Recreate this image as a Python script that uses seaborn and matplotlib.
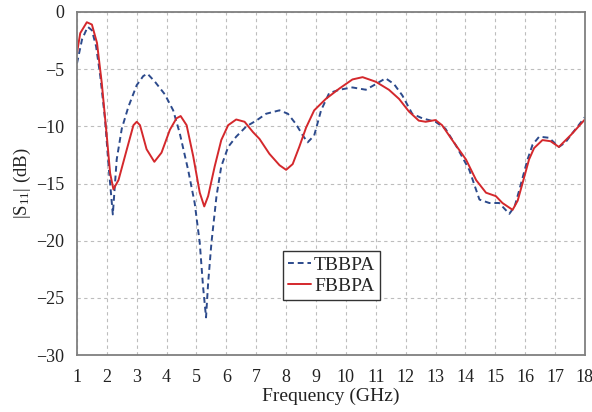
import matplotlib
matplotlib.use("Agg")
import matplotlib.pyplot as plt
import seaborn as sns
import pandas as pd

# Data
tb_freq = [1.0, 1.17, 1.36, 1.5, 1.64, 1.78, 1.94, 2.06, 2.2, 2.33, 2.5, 2.72, 3.0,
           3.22, 3.36, 3.61, 3.94, 4.22, 4.44, 4.72, 4.94, 5.11, 5.22, 5.32, 5.39,
           5.5, 5.67, 5.83, 6.06, 6.33, 6.67, 7.0, 7.33, 7.78, 8.06, 8.33, 8.56,
           8.72, 8.94, 9.17, 9.44, 9.78, 10.22, 10.67, 10.94, 11.33, 11.61, 11.89,
           12.22, 12.56, 13.0, 13.33, 13.69, 14.13, 14.3, 14.47, 14.8, 15.13, 15.47,
           15.65, 15.8, 16.08, 16.25, 16.47, 16.8, 17.13, 17.35, 17.58, 18.0]
tb_s11 = [-4.5, -2.4, -1.3, -1.6, -3.0, -5.6, -9.4, -13.5, -17.7, -12.9, -10.2, -8.3,
          -6.4, -5.6, -5.4, -6.1, -7.2, -8.6, -10.6, -13.8, -16.7, -20.2, -24.0, -26.7,
          -23.7, -20.2, -16.1, -13.5, -11.8, -10.9, -10.0, -9.5, -8.9, -8.6, -8.9,
          -9.8, -10.8, -11.4, -10.8, -8.6, -7.1, -6.8, -6.6, -6.8, -6.4, -5.8, -6.3,
          -7.3, -8.9, -9.3, -9.6, -10.2, -11.7, -13.8, -15.1, -16.4, -16.7, -16.7,
          -17.65, -17.0, -15.6, -12.9, -11.6, -10.9, -11.0, -11.8, -11.4, -10.6, -9.2]

fb_freq = [1.0, 1.11, 1.33, 1.5, 1.67, 1.83, 2.0, 2.11, 2.22, 2.39, 2.67, 2.89, 3.0,
           3.11, 3.33, 3.59, 3.83, 4.11, 4.33, 4.47, 4.67, 4.89, 5.11, 5.26, 5.39,
           5.61, 5.83, 6.06, 6.33, 6.61, 6.89, 7.11, 7.44, 7.78, 8.0, 8.22, 8.44,
           8.67, 8.94, 9.33, 9.78, 10.22, 10.56, 11.0, 11.44, 11.78, 12.11, 12.44,
           12.67, 13.0, 13.22, 13.56, 14.02, 14.36, 14.69, 15.02, 15.24, 15.58,
           15.75, 15.91, 16.13, 16.3, 16.58, 16.85, 17.13, 17.55, 18.0]
fb_s11 = [-3.6, -1.85, -0.9, -1.1, -2.7, -6.2, -10.9, -14.1, -15.5, -14.7, -12.0,
          -9.9, -9.6, -9.9, -12.0, -13.1, -12.3, -10.3, -9.3, -9.1, -9.9, -12.6,
          -15.8, -17.0, -16.1, -13.5, -11.2, -9.9, -9.4, -9.6, -10.5, -11.1, -12.4,
          -13.4, -13.8, -13.3, -11.8, -10.1, -8.6, -7.6, -6.7, -5.9, -5.7, -6.1,
          -6.8, -7.6, -8.7, -9.5, -9.6, -9.45, -9.9, -11.2, -12.9, -14.7, -15.8,
          -16.1, -16.7, -17.3, -16.5, -15.0, -12.9, -11.9, -11.2, -11.3, -11.8,
          -10.7, -9.4]

x_ticks = list(range(1, 19))
y_ticks = [0, -5, -10, -15, -20, -25, -30]

sns.set_theme(style="white")
plt.rcParams['font.family'] = ['Liberation Serif', 'DejaVu Serif']
plt.rcParams['mathtext.fontset'] = 'custom'
plt.rcParams['mathtext.rm'] = 'Liberation Serif'
plt.rcParams['mathtext.it'] = 'Liberation Serif:italic'

fig = plt.figure(figsize=(5.92, 4.12), dpi=100)
ax = fig.add_axes([0.130, 0.138, 0.858, 0.833])

df_tb = pd.DataFrame({"f": tb_freq, "s": tb_s11})
df_fb = pd.DataFrame({"f": fb_freq, "s": fb_s11})

sns.lineplot(data=df_tb, x="f", y="s", ax=ax, color="#2c4a8c", lw=1.4,
             linestyle=(0, (3, 2)), label="TBBPA", sort=False)
sns.lineplot(data=df_fb, x="f", y="s", ax=ax, color="#d4282c", lw=1.4,
             label="FBBPA", sort=False)
for ln in ax.lines:
    ln.set_solid_joinstyle("round")
    ln.set_dash_joinstyle("round")

ax.set_xlim(1, 18)
ax.set_ylim(-30, 0)
ax.set_xticks(x_ticks)
ax.set_yticks(y_ticks)
ax.grid(True, color="#bdbdbd", linestyle=(0, (3, 3)), linewidth=0.8)

for sp in ax.spines.values():
    sp.set_color("#7f7f7f")
    sp.set_linewidth(1.3)
    sp.set_visible(True)

ax.tick_params(axis="both", direction="out", length=4, width=1, color="#7f7f7f",
               labelsize=13, labelcolor="#222222", pad=5)
ax.tick_params(axis="x", pad=6)
ax.set_xlabel("Frequency (GHz)", fontsize=14, color="#222222", labelpad=1)
ax.set_ylabel(r"|S$_{\mathrm{11}}$| (dB)", fontsize=13.5, color="#222222", labelpad=2)

leg = ax.legend(loc="upper left", bbox_to_anchor=(0.4055, 0.303), fontsize=14,
                frameon=True, fancybox=False, framealpha=1, edgecolor="#333333",
                handlelength=1.2, handletextpad=0.15, borderpad=0.25,
                labelspacing=0.2, borderaxespad=0)
leg.get_frame().set_linewidth(1.0)

fig.savefig("out.png", dpi=100)
